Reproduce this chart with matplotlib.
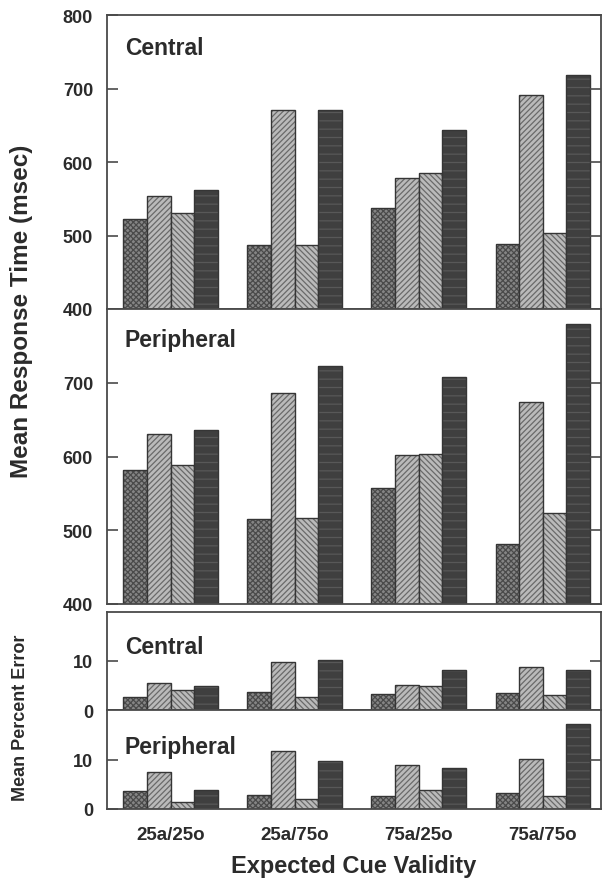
import numpy as np
import matplotlib
matplotlib.use("Agg")
import matplotlib.pyplot as plt

groups = ["25a/25o", "25a/75o", "75a/25o", "75a/75o"]

# mean response time (msec), 4 bars per group
rt_central = [
    [523, 554, 530, 562],
    [487, 671, 487, 671],
    [537, 578, 585, 644],
    [488, 691, 504, 718],
]
rt_peripheral = [
    [582, 631, 588, 636],
    [515, 686, 516, 723],
    [557, 602, 604, 708],
    [481, 674, 524, 780],
]
# mean percent error
err_central = [
    [2.6, 5.6, 4.0, 5.0],
    [3.6, 9.7, 2.6, 10.3],
    [3.3, 5.2, 4.9, 8.1],
    [3.5, 8.8, 3.0, 8.1],
]
err_peripheral = [
    [3.6, 7.4, 1.5, 3.8],
    [2.8, 11.8, 2.0, 9.7],
    [2.7, 8.8, 3.8, 8.2],
    [3.3, 10.1, 2.7, 17.1],
]

plt.rcParams['font.family'] = ['Liberation Sans', 'DejaVu Sans']
plt.rcParams['font.weight'] = 'bold'
plt.rcParams['hatch.linewidth'] = 0.9

txt = '#2b2b2b'
frame = '#4a4a4a'
styles = [
    dict(fc='#858585', hatch='xxxxxx', hc='#4a4a4a'),
    dict(fc='#bababa', hatch='//////', hc='#6a6a6a'),
    dict(fc='#bababa', hatch='\\\\\\\\\\\\', hc='#6a6a6a'),
    dict(fc='#3f3f3f', hatch='--', hc='#585858'),
]

fig = plt.figure(figsize=(6.03, 8.79), dpi=100)
W = 603.0
H = 879.0
left = 107 / W
width = 494 / W


def make_ax(top, bottom):
    return fig.add_axes([left, 1 - bottom / H, width, (bottom - top) / H])


ax_rc = make_ax(16, 310)
ax_rp = make_ax(310, 605)
ax_ec = make_ax(613, 711)
ax_ep = make_ax(711, 810)

x = np.arange(len(groups))
bw = 0.19


def draw(ax, data, base, ylim, yticks, label, label_y):
    data = np.array(data)
    for j in range(4):
        st = styles[j]
        xs = x + (j - 1.5) * bw
        ax.bar(xs, data[:, j] - base, bw, bottom=base, color=st['fc'],
               hatch=st['hatch'], edgecolor=st['hc'], linewidth=0)
        ax.bar(xs, data[:, j] - base, bw, bottom=base, fill=False,
               edgecolor='#353535', linewidth=1.0)
    ax.set_xlim(-0.512, 3.47)
    ax.set_ylim(*ylim)
    ax.set_yticks(yticks)
    ax.tick_params(axis='y', direction='in', length=8, width=1.2,
                   right=True, colors=frame, labelcolor=txt, labelsize=13, pad=10)
    ax.tick_params(axis='x', length=0, labelbottom=False)
    for s in ax.spines.values():
        s.set_color(frame)
        s.set_linewidth(1.3)
    for lab in ax.get_yticklabels():
        lab.set_fontweight('bold')
    ax.text(0.036, label_y, label, transform=ax.transAxes, fontsize=16.5,
            fontweight='bold', color=txt, va='top', ha='left')


draw(ax_rc, rt_central, 400, (400, 800), [400, 500, 600, 700, 800], 'Central', 0.93)
draw(ax_rp, rt_peripheral, 400, (400, 800), [400, 500, 600, 700], 'Peripheral', 0.935)
draw(ax_ec, err_central, 0, (0, 20), [0, 10], 'Central', 0.77)
draw(ax_ep, err_peripheral, 0, (0, 20), [0, 10], 'Peripheral', 0.75)

ax_ep.set_xticks(x)
ax_ep.set_xticklabels(groups)
ax_ep.tick_params(axis='x', labelbottom=True, labelsize=13.5, labelcolor=txt, pad=12)
for lab in ax_ep.get_xticklabels():
    lab.set_fontweight('bold')

fig.text(22 / W, 1 - 311 / H, 'Mean Response Time (msec)', rotation=90,
         fontsize=17.5, fontweight='bold', color=txt, ha='center', va='center')
fig.text(21 / W, 1 - 718 / H, 'Mean Percent Error', rotation=90,
         fontsize=13, fontweight='bold', color=txt, ha='center', va='center')
fig.text((107 + 601) / 2 / W, 1 - 867 / H, 'Expected Cue Validity',
         fontsize=17, fontweight='bold', color=txt, ha='center', va='center')

fig.savefig('out.png', dpi=100)
